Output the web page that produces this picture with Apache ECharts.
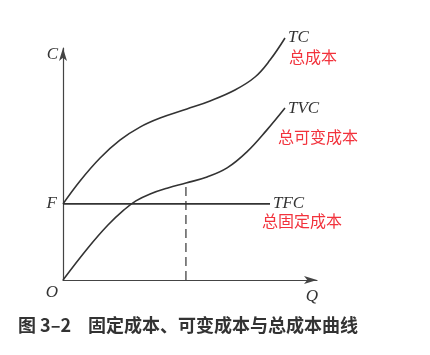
<!DOCTYPE html>
<html>
<head>
<meta charset="utf-8">
<script src="https://cdn.jsdelivr.net/npm/echarts@6/dist/echarts.min.js"></script>
<style>
    html, body { margin: 0; padding: 0; background: #fff; }
    #chart { width: 430px; height: 355px; }
</style>
</head>
<body>
<div id="chart"></div>
<script>
// 总成本 TC (Q, C)
var tcQ = [0, 6.7, 14.6, 22.4, 30.3, 38.2, 48.8, 57.9, 67.7, 75.6, 81.5, 87.4];
var tcC = [32.8, 42.7, 52.6, 60.3, 65.9, 69.8, 73.7, 77.2, 81.9, 87.5, 94.8, 104.3];
// 总可变成本 TVC
var tvcQ = [0, 9.8, 17.7, 24.0, 28.7, 34.3, 41.3, 48.4, 56.7, 64.6, 72.4, 80.3, 87.4];
var tvcC = [0, 13.8, 23.7, 30.2, 34.1, 37.1, 39.7, 41.8, 44.4, 48.3, 55.2, 64.7, 74.1];
// 总固定成本 TFC
var tfcQ = [0, 81.5];
var tfcC = [32.8, 32.8];
// 虚线位置
var guideQ = [48.4, 48.4];
var guideC = [0, 41.8];

var cnNames = ['总成本', '总可变成本', '总固定成本'];

function pairs(xs, ys) {
    var out = [];
    for (var i = 0; i < xs.length; i++) {
        out.push([xs[i], ys[i]]);
    }
    return out;
}

var ink = '#333';
var red = '#f2323c';
var italic = {
    fontFamily: 'Liberation Serif',
    fontStyle: 'italic',
    fontSize: 17,
    color: ink
};

function curve(name, data, smooth) {
    return {
        name: name,
        type: 'line',
        data: data,
        smooth: smooth,
        symbol: 'none',
        clip: false,
        lineStyle: { color: ink, width: 1.6 },
        endLabel: {
            show: true,
            formatter: name,
            distance: 3,
            fontFamily: italic.fontFamily,
            fontStyle: 'italic',
            fontSize: 17,
            color: ink
        }
    };
}

var myChart = echarts.init(document.getElementById('chart'));

var axisCommon = {
    type: 'value',
    min: 0,
    max: 100,
    axisTick: { show: false },
    axisLabel: { show: false },
    splitLine: { show: false },
    axisLine: {
        show: true,
        symbol: ['none', 'arrow'],
        symbolSize: [6, 13],
        lineStyle: { color: '#444', width: 1.2 }
    }
};

option = {
    animation: false,
    backgroundColor: '#fff',
    grid: { left: 63, right: 113, top: 48, bottom: 75 },
    xAxis: Object.assign({}, axisCommon, {
        name: 'Q',
        nameLocation: 'end',
        nameGap: -5,
        nameTextStyle: Object.assign({}, italic, { align: 'center', verticalAlign: 'top', padding: [8, 0, 0, 0] })
    }),
    yAxis: Object.assign({}, axisCommon, {
        name: 'C',
        nameLocation: 'end',
        nameGap: -7,
        nameTextStyle: Object.assign({}, italic, { align: 'right', verticalAlign: 'middle', padding: [0, 5, 0, 0] })
    }),
    series: [
        curve('TC', pairs(tcQ, tcC), 0.4),
        curve('TVC', pairs(tvcQ, tvcC), 0.4),
        curve('TFC', pairs(tfcQ, tfcC), false),
        {
            name: 'guide',
            type: 'line',
            data: pairs(guideQ, guideC),
            symbol: 'none',
            lineStyle: { color: ink, width: 1.2, type: [9, 5] }
        }
    ]
};
myChart.setOption(option);

// 中文标注和 F、O 字母
var redOffsets = [[4, 20], [-7, 30], [-8, 18]];
var ends = [
    [tcQ[tcQ.length - 1], tcC[tcC.length - 1]],
    [tvcQ[tvcQ.length - 1], tvcC[tvcC.length - 1]],
    [tfcQ[1], tfcC[1]]
];
var graphics = [];
for (var i = 0; i < ends.length; i++) {
    var p = myChart.convertToPixel({ gridIndex: 0 }, ends[i]);
    graphics.push({
        type: 'text',
        left: p[0] + redOffsets[i][0],
        top: p[1] + redOffsets[i][1] - 9,
        style: {
            text: cnNames[i],
            fill: red,
            fontFamily: 'Noto Sans CJK SC',
            fontSize: 16
        }
    });
}
var fPos = myChart.convertToPixel({ gridIndex: 0 }, [0, tfcC[0]]);
var oPos = myChart.convertToPixel({ gridIndex: 0 }, [0, 0]);
graphics.push({
    type: 'text', x: fPos[0] - 6, y: fPos[1],
    style: { text: 'F', fill: ink, font: 'italic 17px "Liberation Serif"', align: 'right', verticalAlign: 'middle' }
});
graphics.push({
    type: 'text', x: oPos[0] - 5, y: oPos[1] + 13,
    style: { text: 'O', fill: ink, font: 'italic 17px "Liberation Serif"', align: 'right', verticalAlign: 'middle' }
});
// 图题
graphics.push({
    type: 'text', x: 18, y: 325,
    style: { text: '图 3–2', fill: '#333', font: 'bold 18px "Noto Sans CJK SC"', verticalAlign: 'middle' }
});
graphics.push({
    type: 'text', x: 88, y: 325,
    style: { text: '固定成本、可变成本与总成本曲线', fill: '#333', font: 'bold 18px "Noto Sans CJK SC"', verticalAlign: 'middle' }
});
myChart.setOption({ graphic: graphics });
</script>
</body>
</html>
